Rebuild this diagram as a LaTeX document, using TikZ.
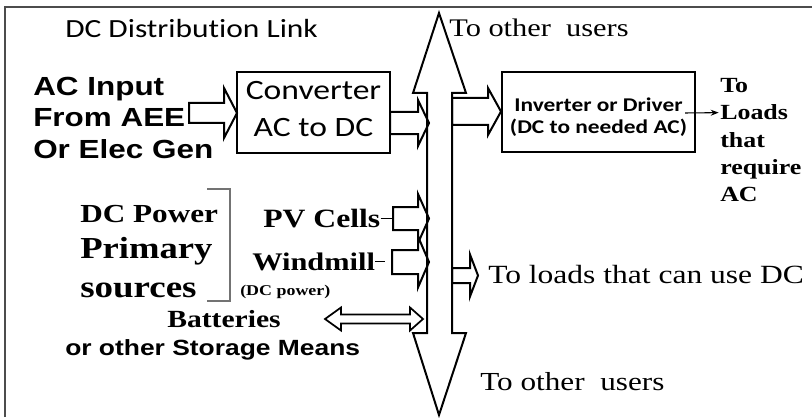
\documentclass[tikz,border=0pt]{standalone}
\usepackage{fontspec}
\usepackage{graphicx}
\usetikzlibrary{arrows.meta}
\setmainfont{Liberation Serif}
\newfontfamily\calfont[Ligatures={NoCommon,NoRequired,NoContextual}]{Carlito}
\newfontfamily\arialfont{Liberation Sans}
\newcommand{\hs}[1]{\scalebox{1.2}[1]{#1}}
\newcommand{\fsz}[1]{\fontsize{#1}{#1}\selectfont}
% block arrow: [opts]{tail x}{head base x}{tip x}{centre y}{shaft half}{head half}
\newcommand{\barrow}[7][]{\draw[blk,#1] ({#2},{#5-#6}) -- ({#3},{#5-#6}) -- ({#3},{#5-#7}) -- ({#4},{#5}) -- ({#3},{#5+#7}) -- ({#3},{#5+#6}) -- ({#2},{#5+#6}) -- cycle;}
\begin{document}
\begin{tikzpicture}[x=0.75pt,y=-0.75pt,
  txt/.style={inner sep=0pt, anchor=base west},
  txtc/.style={inner sep=0pt, anchor=base},
  blk/.style={draw=black, line width=1.5pt, line join=miter},
  boxst/.style={draw=black, line width=1.5pt, inner sep=0pt},
  frameline/.style={draw=black!70, line width=1.2pt},
  tick/.style={draw=black, line width=0.7pt},
  brace/.style={draw=black!55, line width=0.8pt}]
\useasboundingbox (0,0) rectangle (812,417);
% frame
\draw[frameline] (5,417) -- (5,7) -- (812,7);
% DC bus (double block arrow)
\draw[blk] (439,13) -- (466,93) -- (452,93) -- (452,333) -- (466,333) -- (439,415)
  -- (413,333) -- (427,333) -- (427,93) -- (413,93) -- cycle;
\coordinate (bus) at (439,214);
% boxes
\node[boxst, minimum width=114.75pt, minimum height=60.75pt] (conv) at (313.5,112.5) {};
\node[boxst, minimum width=144.75pt, minimum height=60pt] (inv) at (598.5,112) {};
\node[txtc] (conv1) at (313.5,100) {\hs{\calfont\fsz{21}Converter}};
\node[txtc] (conv2) at (313.5,137) {\hs{\calfont\fsz{21}AC to DC}};
\node[txtc] (inv1) at (598.5,112) {\hs{\calfont\bfseries\fsz{14.6}Inverter or Driver}};
\node[txtc] (inv2) at (598.5,133) {\hs{\calfont\bfseries\fsz{14.6}(DC to needed AC)}};
% block arrows
\barrow{189}{224}{237}{113}{10}{25}
\barrow{390}{418}{429}{123}{11}{23}
\barrow{452}{488}{501}{111.5}{13.5}{23.5}
\barrow{393}{418}{429}{218.5}{11.5}{24.5}
\barrow{392}{418}{429}{262}{12}{25.5}
\barrow{452}{470}{478}{275.5}{7.5}{21}
% batteries double arrow
\draw[blk, line width=1.3pt] (325,319) -- (341,307.5) -- (341,314.5) -- (410,314.5) -- (410,307.5)
  -- (423,319) -- (410,330.5) -- (410,323.5) -- (341,323.5) -- (341,330.5) -- cycle;
% title
\node[txt] (title) at (65,38) {\hs{\calfont\fsz{19.65}DC Distribution Link}};
% AC input
\node[txt] (ac1) at (33,96) {\hs{\arialfont\bfseries\fsz{19.65}AC Input}};
\node[txt] (ac2) at (33,127) {\hs{\arialfont\bfseries\fsz{19.65}From AEE}};
\node[txt] (ac3) at (33,158) {\hs{\arialfont\bfseries\fsz{19.65}Or Elec Gen}};
% to other users
\node[txt] (up) at (449,37) {\hs{\fsz{19}To other\ \ users}};
\node[txt] (down) at (480,390) {\hs{\fsz{19.5}To other\ \ users}};
\node[txt] (dcl) at (488,283) {\hs{\fsz{19.7}To loads that can use DC}};
% loads AC
\node[txt] (ld1) at (720,93) {\hs{\bfseries\fsz{16.2}To}};
\node[txt] (ld2) at (720,120) {\hs{\bfseries\fsz{16.2}Loads}};
\node[txt] (ld3) at (720,147) {\hs{\bfseries\fsz{16.2}that}};
\node[txt] (ld4) at (720,174) {\hs{\bfseries\fsz{16.2}require}};
\node[txt] (ld5) at (720,201) {\hs{\bfseries\fsz{16.2}AC}};
\coordinate (invout) at (685,113);
\draw[line width=0.8pt, -{Stealth[length=6pt,width=4.5pt]}, shorten >=1pt] (invout) -- (ld2.west);
% DC primary sources
\node[txt] (dc1) at (80,222) {\hs{\bfseries\fsz{19.5}DC Power}};
\node[txt] (dc2) at (80,258) {\hs{\bfseries\fsz{22.9}Primary}};
\node[txt] (dc3) at (80,297) {\hs{\bfseries\fsz{23.1}sources}};
\draw[brace] (207,189) -- (230,189) -- (230,301) -- (207,301);
\node[txt] (pv) at (263,227) {\hs{\bfseries\fsz{19.8}PV Cells}};
\node[txt] (wind) at (252,270) {\hs{\bfseries\fsz{19}Windmill}};
\node[txt] (dcp) at (240,295) {\hs{\bfseries\fsz{11.2}(DC power)}};
\draw[tick] (pv.east) -- ++(12,0);
\draw[tick] (wind.east) -- ++(10,0);
% batteries
\node[txt] (bat) at (167,327) {\hs{\bfseries\fsz{18.5}Batteries}};
\node[txt] (sto) at (65,355) {\hs{\arialfont\bfseries\fsz{16.5}or other Storage Means}};
\end{tikzpicture}
\end{document}
